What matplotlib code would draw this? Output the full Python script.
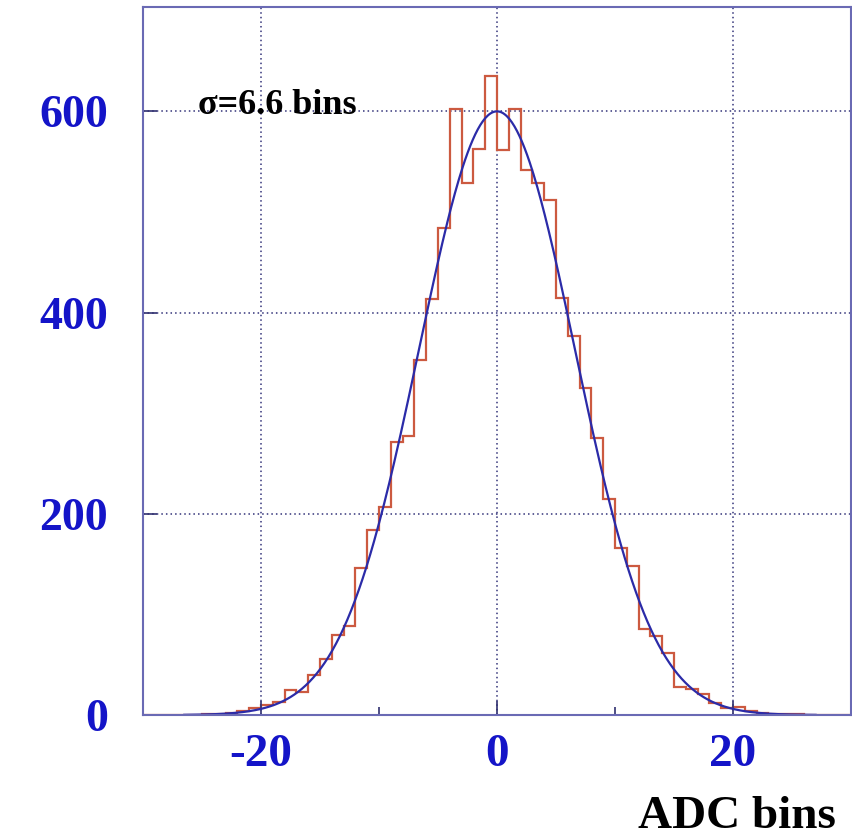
#! /usr/bin/env python
"""
Pedestal width histogram (ADC bins) with a gaussian fit on top.
"""
import numpy as np
import matplotlib
matplotlib.use("Agg")
import matplotlib.pyplot as plt
from matplotlib.ticker import MultipleLocator

plt.rcParams['axes.unicode_minus'] = False

# histogram: 1-bin wide bins from -30 to 30
bin_lo = -30
bin_hi = 30
counts = [0, 0, 0, 0, 0,
          1, 1, 2, 4, 7, 10, 13, 25, 23, 40,
          56, 80, 88, 146, 184, 207, 271, 277, 353, 413,
          484, 602, 529, 563, 635,
          562, 602, 542, 529, 512, 414, 377, 325, 275, 215,
          166, 148, 85, 79, 62, 28, 26, 21, 12, 7,
          8, 4, 2, 1, 1, 1, 0, 0, 0, 0]

# gaussian fit result
fit_amp = 600.0
fit_mean = 0.0
fit_sigma = 6.6
fit_lo = -26.5
fit_hi = 27.0

x_ticks = [-20, 0, 20]
y_ticks = [0, 200, 400, 600]

label_blue = '#1414c8'
hist_red = '#cc5a40'
fit_blue = '#2b2ba8'
frame = '#6a6ab4'
serif = ['Liberation Serif', 'DejaVu Serif']

edges = np.arange(bin_lo, bin_hi + 1)

fig = plt.figure(figsize=(8.52, 8.40), dpi=100)
ax = fig.add_axes([0.1678, 0.1488, 0.831, 0.8432])

ax.stairs(counts, edges, color=hist_red, lw=1.6)

xf = np.linspace(fit_lo, fit_hi, 500)
yf = fit_amp*np.exp(-0.5*((xf - fit_mean)/fit_sigma)**2)
ax.plot(xf, yf, color=fit_blue, lw=1.6)

ax.set_xlim(bin_lo, bin_hi)
ax.set_ylim(0, 704)

# dotted grid at the major ticks
for gx in x_ticks:
    ax.axvline(gx, color='#34347a', lw=1.1, ls=(0, (1, 2)), zorder=0)
for gy in y_ticks[1:]:
    ax.axhline(gy, color='#34347a', lw=1.1, ls=(0, (1, 2)), zorder=0)

ax.set_xticks(x_ticks)
ax.set_yticks(y_ticks)
ax.xaxis.set_minor_locator(MultipleLocator(10))
ax.tick_params(which='major', direction='in', length=10, width=1.2,
               color='#303070', labelcolor=label_blue, labelsize=33)
ax.tick_params(which='minor', direction='in', length=6, width=1.2,
               color='#303070')
ax.tick_params(axis='x', pad=14, labelsize=34)
ax.tick_params(axis='y', pad=25)
for lab in ax.get_xticklabels() + ax.get_yticklabels():
    lab.set_fontfamily(serif)
    lab.set_fontweight('bold')

for s in ax.spines.values():
    s.set_color(frame)
    s.set_linewidth(1.5)

ax.text(-25.3, 597, u'\u03c3=6.6 bins', fontsize=26, fontweight='bold',
        family=serif, color='black', va='baseline', ha='left')

fig.text(0.981, 0.014, 'ADC bins', fontsize=34, fontweight='bold',
         family=serif, color='black', ha='right', va='baseline')

fig.savefig('out.png', dpi=100)
